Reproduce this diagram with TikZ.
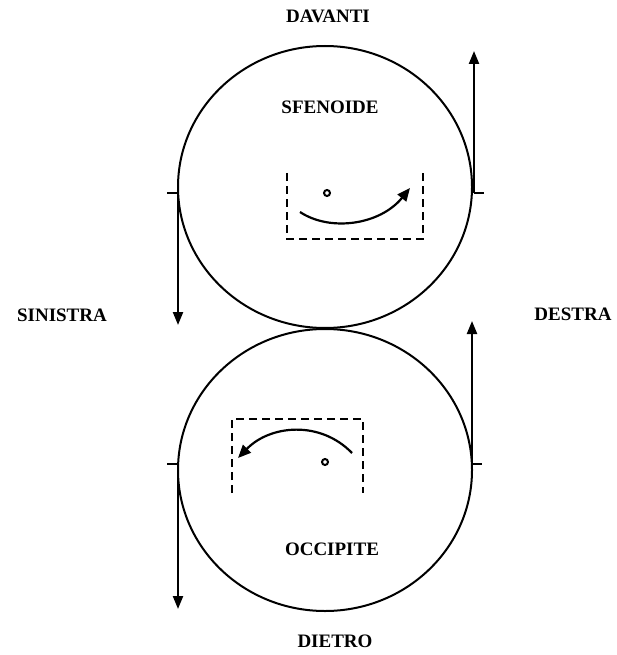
\documentclass[tikz,border=0pt]{standalone}
\usepackage{fontspec}
\setmainfont{Liberation Serif}
\usetikzlibrary{arrows.meta,shapes.geometric}

\begin{document}
\begin{tikzpicture}[x=1pt, y=-1pt, >={Triangle[width=10pt,length=13pt]}, every node/.style={font=\fontsize{19}{22}\selectfont\bfseries}]
\tikzstyle{osso}=[ellipse, draw, line width=2pt, minimum width=294pt, minimum height=282pt, inner sep=0pt]
\tikzstyle{freccia}=[->, line width=2.2pt]
\tikzstyle{tacca}=[line width=2.2pt]
\tikzstyle{cornice}=[line width=2.2pt, dash pattern=on 8pt off 5pt]
\tikzstyle{giro}=[->, line width=2.2pt, >={Triangle[width=11pt,length=13pt]}]
\tikzstyle{perno}=[circle, draw, line width=2pt, minimum size=6pt, inner sep=0pt]
\useasboundingbox (0,0) rectangle (617,655);
% le due ossa
\node[osso] (sfen) at (325,187) {};
\node[osso] (occ) at (325,470) {};
\node (sfenlab) at (330,107) {SFENOIDE};
\node (occlab) at (332,549) {OCCIPITE};
% orientamento
\node (davanti) at (328,16) {DAVANTI};
\node (dietro) at (335,641) {DIETRO};
\node (sinistra) at (62,315) {SINISTRA};
\node (destra) at (573,314) {DESTRA};
% tacche e frecce
\coordinate (sl) at (178,193);
\coordinate (sl0) at (167,193);
\coordinate (slend) at (178,325);
\coordinate (sr) at (474,193);
\coordinate (sr0) at (484,193);
\coordinate (srend) at (474,51);
\coordinate (ol) at (178,464);
\coordinate (ol0) at (167,464);
\coordinate (olend) at (178,609);
\coordinate (or) at (472,464);
\coordinate (or0) at (482,464);
\coordinate (orend) at (472,321);
\draw[tacca] (sl0) -- (sl);
\draw[tacca] (sr) -- (sr0);
\draw[tacca] (ol0) -- (ol);
\draw[tacca] (or) -- (or0);
\draw[freccia] (sl) -- (slend);
\draw[freccia] (sr) -- (srend);
\draw[freccia] (ol) -- (olend);
\draw[freccia] (or) -- (orend);
% riquadri tratteggiati
\draw[cornice] (287,173) -- (287,239) -- (423,239) -- (423,173);
\draw[cornice] (232,493) -- (232,419) -- (363,419) -- (363,493);
% perni
\node[perno] (psfen) at (327,193) {};
\node[perno] (pocc) at (325,462) {};
% rotazioni
\coordinate (ga) at (300,212);
\coordinate (gb) at (410,188);
\coordinate (gc) at (352,453);
\coordinate (gd) at (238,458);
\draw[giro] (ga) .. controls (330,232) and (380,225) .. (gb);
\draw[giro] (gc) .. controls (320,420) and (270,425) .. (gd);
\end{tikzpicture}
\end{document}
